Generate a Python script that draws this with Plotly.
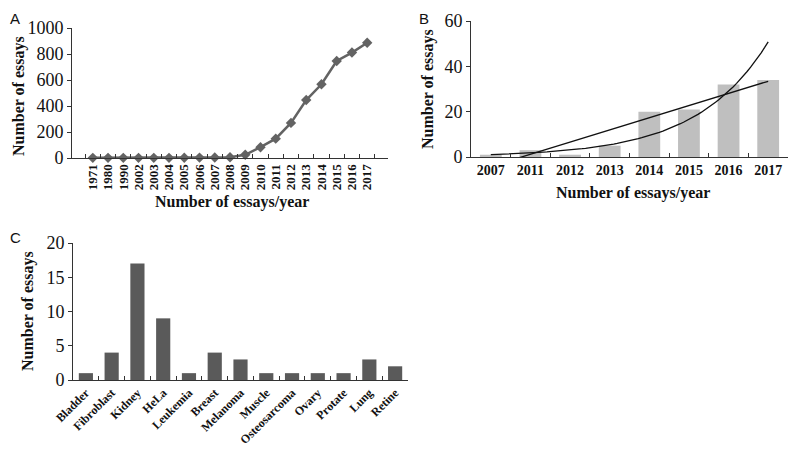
import numpy as np
import plotly.graph_objects as go

# ---- Data ----
years_a = ["1971", "1980", "1990", "2002", "2003", "2004", "2005", "2006", "2007", "2008",
           "2009", "2010", "2011", "2012", "2013", "2014", "2015", "2016", "2017"]
essays_a = [1, 1, 1, 1, 1, 1, 2, 3, 4, 6, 25, 83, 149, 270, 446, 567, 746, 811, 887]

years_b = ["2007", "2011", "2012", "2013", "2014", "2015", "2016", "2017"]
essays_b = [1, 3, 1, 5, 20, 21, 32, 34]

cells_c = ["Bladder", "Fibroblast", "Kidney", "HeLa", "Leukemia", "Breast", "Melanoma",
           "Muscle", "Osteosarcoma", "Ovary", "Protate", "Lung", "Retine"]
essays_c = [1, 4, 17, 9, 1, 4, 3, 1, 1, 1, 1, 3, 2]

OFF = 8  # default page body margin
W, H = 796 - 2 * OFF, 456 - 2 * OFF
SERIF = "Liberation Serif"
AX = "#333333"


def px(x0, x1):
    return [max(0, (x0 - OFF) / W), min(1, (x1 - OFF) / W)]


def py(ytop, ybot):
    return [max(0, 1 - (ybot - OFF) / H), min(1, 1 - (ytop - OFF) / H)]


fig = go.Figure()

# Panel A: line
fig.add_trace(go.Scatter(x=years_a, y=essays_a, mode="lines+markers",
                         line=dict(color="#636363", width=2.5),
                         marker=dict(symbol="diamond", size=8, color="#636363"),
                         xaxis="x", yaxis="y", showlegend=False, cliponaxis=False))

# Panel B: bars + trend lines (fits of the bar values)
fig.add_trace(go.Bar(x=years_b, y=essays_b, marker=dict(color="#bfbfbf", line=dict(width=0)),
                     xaxis="x2", yaxis="y2", showlegend=False))
idx = np.arange(1, len(essays_b) + 1)
lin = np.polyfit(idx, essays_b, 1)
expf = np.polyfit(idx, np.log(essays_b), 1)
xs = np.linspace(1, len(essays_b), 80)
fig.add_trace(go.Scatter(x=xs - 1, y=np.polyval(lin, xs), mode="lines",
                         line=dict(color="#111111", width=1.3),
                         xaxis="x4", yaxis="y2", showlegend=False))
fig.add_trace(go.Scatter(x=xs - 1, y=np.exp(np.polyval(expf, xs)), mode="lines",
                         line=dict(color="#111111", width=1.3),
                         xaxis="x4", yaxis="y2", showlegend=False))

# Panel C: bars
fig.add_trace(go.Bar(x=cells_c, y=essays_c, marker=dict(color="#5a5a5a", line=dict(width=0)),
                     xaxis="x3", yaxis="y3", showlegend=False))

common_x = dict(type="category", showline=True, linecolor=AX, linewidth=1,
                tickson="boundaries", ticks="inside", ticklen=4, tickcolor=AX,
                tickmode="linear", dtick=1,
                showgrid=False, zeroline=False, fixedrange=True, automargin=False)
common_y = dict(showline=True, linecolor=AX, linewidth=1, ticks="outside", ticklen=4,
                tickcolor=AX, showgrid=False, zeroline=False, automargin=False,
                tickfont=dict(family=SERIF, size=18, color="#111111"))

fig.update_layout(
    width=W, height=H, autosize=False,
    margin=dict(l=0, r=0, t=0, b=0, autoexpand=False),
    paper_bgcolor="white", plot_bgcolor="white",
    bargap=0.45,
    xaxis=dict(common_x, domain=px(72, 388), anchor="y", tickangle=-90,
               tickfont=dict(family=SERIF, size=13, color="#111111", weight="bold")),
    yaxis=dict(common_y, domain=py(28, 158), anchor="x", range=[0, 1000], dtick=200),
    xaxis2=dict(common_x, domain=px(471, 789), anchor="y2", tickangle=0,
                tickfont=dict(family=SERIF, size=14, color="#111111", weight="bold")),
    yaxis2=dict(common_y, domain=py(21, 157), anchor="x2", range=[0, 60], dtick=20),
    xaxis4=dict(domain=px(471, 789), anchor="y2", overlaying="x2", range=[-0.5, 7.5],
                visible=False, fixedrange=True, automargin=False),
    xaxis3=dict(common_x, domain=px(73, 408), anchor="y3", tickangle=-45,
                tickfont=dict(family=SERIF, size=12, color="#111111", weight="bold")),
    yaxis3=dict(common_y, domain=py(243, 380), anchor="x3", range=[0, 20], dtick=5),
)

title_font = dict(family=SERIF, size=16, color="#111111", weight="bold")
letter_font = dict(family="Liberation Sans", size=15, color="#111111")


def ann(text, x, y, font, angle=0, xa="center", ya="middle"):
    fig.add_annotation(text=text, x=max(0, (x - OFF) / W), y=min(1, 1 - (y - OFF) / H),
                       xref="paper", yref="paper",
                       showarrow=False, font=font, textangle=angle,
                       xanchor=xa, yanchor=ya)


ann("Number of essays", 8, 96, title_font, -90, xa="left")
ann("Number of essays/year", 232, 202, title_font)
ann("Number of essays", 428, 89, title_font, -90)
ann("Number of essays/year", 633, 193, title_font)
ann("Number of essays", 28, 311, title_font, -90)
ann("A", 8, 8, letter_font, xa="left", ya="top")
ann("B", 424, 8, letter_font, ya="top")
ann("C", 8, 237, letter_font, xa="left")

fig.write_html("out.html")
